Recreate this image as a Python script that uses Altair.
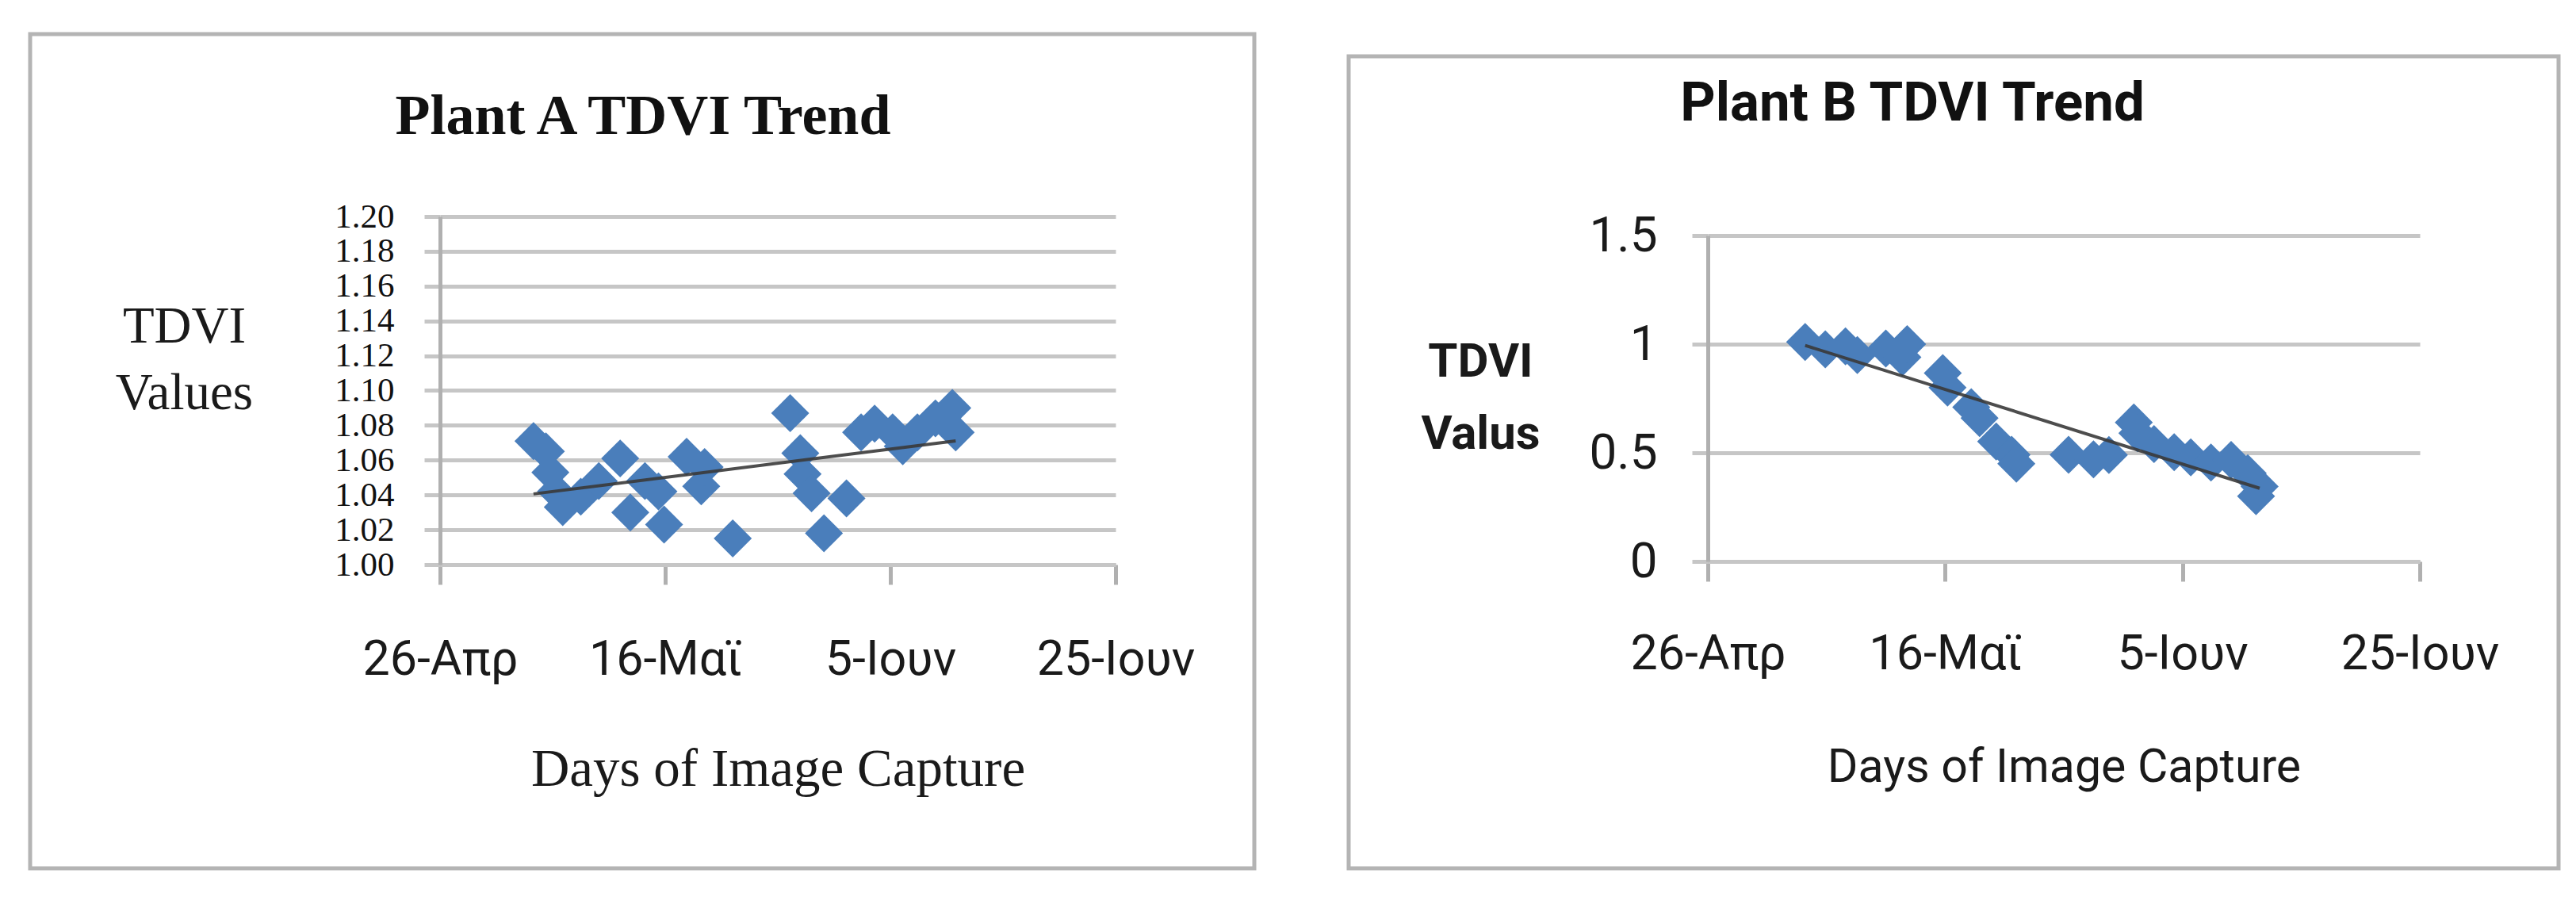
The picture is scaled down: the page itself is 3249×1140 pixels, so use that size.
import altair as alt
import pandas as pd

# ---- data ----
TICK_DAYS = [0, 20, 40, 60]                       # days after 26 April
TICK_LABELS = ["26-Απρ", "16-Μαϊ", "5-Ιουν", "25-Ιουν"]

A_DAYS = [8.3, 9.4, 9.8, 10.3, 10.9, 12.5, 14.1, 16.0, 16.9, 18.2, 19.4, 19.9,
          21.9, 23.2, 23.5, 26.0, 31.1, 32.0, 32.2, 33.0, 34.1, 36.1, 37.4, 38.6,
          40.2, 41.1, 42.4, 44.0, 45.5, 45.8]
A_TDVI = [1.071, 1.065, 1.053, 1.042, 1.033, 1.039, 1.048, 1.061, 1.030, 1.048,
          1.042, 1.023, 1.062, 1.045, 1.056, 1.015, 1.087, 1.064, 1.052, 1.041,
          1.018, 1.038, 1.076, 1.081, 1.076, 1.068, 1.076, 1.084, 1.090, 1.076]

B_DAYS = [8.2, 9.9, 11.6, 12.6, 15.0, 16.4, 16.8, 19.8, 20.2, 22.2, 22.9, 24.3,
          25.6, 26.0, 30.4, 32.5, 33.8, 35.9, 36.2, 37.6, 39.3, 40.7, 42.4, 44.1,
          45.5, 46.2, 46.5]
B_TDVI = [1.01, 0.976, 0.99, 0.95, 0.98, 0.94, 1.0, 0.867, 0.80, 0.71, 0.66,
          0.552, 0.491, 0.45, 0.491, 0.47, 0.49, 0.64, 0.59, 0.54, 0.503, 0.479,
          0.455, 0.467, 0.406, 0.30, 0.345]

A_YTICKS = [1.00, 1.02, 1.04, 1.06, 1.08, 1.10, 1.12, 1.14, 1.16, 1.18, 1.20]
B_YTICKS = [0, 0.5, 1, 1.5]

# ---- styles ----
BLUE = "#4a7ebb"
GRID = "#c6c6c6"
AXISC = "#b0b0b0"
FRAME = "#b4b4b4"
TXT = "#1a1a1a"
SERIF = "Liberation Serif"
SANS = "Roboto"

label_expr = "[" + ",".join("'%s'" % t for t in TICK_LABELS) + "][round(datum.value/20)]"

dfA = pd.DataFrame({"day": A_DAYS, "tdvi": A_TDVI})
dfB = pd.DataFrame({"day": B_DAYS, "tdvi": B_TDVI})


def x_enc(label_pad, title_font, title_size, title_x, title_y):
    return alt.X(
        "day:Q",
        scale=alt.Scale(domain=[0, 60], nice=False, zero=False),
        axis=alt.Axis(
            values=TICK_DAYS, labelExpr=label_expr, grid=False,
            domainColor=GRID, domainWidth=5, tickColor=AXISC, tickWidth=5, tickSize=25,
            labelFont=SANS, labelFontSize=61, labelColor=TXT, labelBaseline="alphabetic",
            labelPadding=label_pad, labelFlush=False, labelOverlap=False, labelLimit=0,
            title="Days of Image Capture", titleFont=title_font, titleFontSize=title_size,
            titleFontWeight="normal", titleColor=TXT, titleX=title_x, titleY=title_y,
            titleAlign="center", titleBaseline="alphabetic", titleLimit=0,
        ),
    )


# ---------------- Plant A ----------------
WA, HA = 852, 439
xA = x_enc(113, SERIF, 67, WA / 2, 278)
yA = alt.Y(
    "tdvi:Q",
    scale=alt.Scale(domain=[1.0, 1.2], nice=False, zero=False),
    axis=alt.Axis(
        values=A_YTICKS, format=".2f", grid=True, gridColor=GRID, gridWidth=5,
        domainColor=AXISC, domainWidth=5, tickColor=GRID, tickWidth=5, tickSize=20,
        labelFont=SERIF, labelFontSize=43, labelColor="#111", labelPadding=38,
        labelOverlap=False, labelFlush=False, labelLimit=0,
        title=["TDVI", "Values"], titleFont=SERIF, titleFontSize=65, titleFontWeight="normal",
        titleColor=TXT, titleAngle=0, titleX=-323, titleY=158, titleAlign="center",
        titleBaseline="alphabetic", titleLineHeight=84,
    ),
)
baseA = alt.Chart(dfA)
pointsA = baseA.mark_point(shape="diamond", filled=True, size=2300, color=BLUE, opacity=1).encode(x=xA, y=yA)
trendA = baseA.transform_regression("day", "tdvi").mark_line(color="#3a3a3a", strokeWidth=4, opacity=0.9).encode(x=xA, y=yA)
frameA = alt.Chart(alt.Data(values=[{"f": 1}])).mark_rect(
    fill="#ffffff", fillOpacity=0, stroke=FRAME, strokeWidth=5
).encode(x=alt.value(-517), x2=alt.value(1027), y=alt.value(-230), y2=alt.value(822))

panelA = alt.layer(frameA, pointsA, trendA).properties(
    width=WA, height=HA,
    title=alt.TitleParams(
        text="Plant A TDVI Trend", font=SERIF, fontSize=72, fontWeight="bold", color="#111",
        anchor="middle", frame="group", offset=0, dx=-170, dy=200, baseline="alphabetic",
    ),
)

# ---------------- Plant B ----------------
WB, HB = 898, 435
xB = x_enc(110, SANS, 59, WB / 2, 277)
yB = alt.Y(
    "tdvi:Q",
    scale=alt.Scale(domain=[0, 1.5], nice=False, zero=False, range=[HB, 24]),
    axis=alt.Axis(
        values=B_YTICKS, format="~g", grid=True, gridColor=GRID, gridWidth=5,
        domainColor=AXISC, domainWidth=5, tickColor=GRID, tickWidth=5, tickSize=20,
        labelFont=SANS, labelFontSize=62, labelColor=TXT, labelPadding=44,
        labelOverlap=False, labelFlush=False, labelLimit=0,
        title=["TDVI", "Valus"], titleFont=SANS, titleFontSize=60, titleFontWeight="bold",
        titleColor=TXT, titleAngle=0, titleX=-287, titleY=201, titleAlign="center",
        titleBaseline="alphabetic", titleLineHeight=91,
    ),
)
baseB = alt.Chart(dfB)
pointsB = baseB.mark_point(shape="diamond", filled=True, size=2300, color=BLUE, opacity=1).encode(x=xB, y=yB)
trendB = baseB.transform_regression("day", "tdvi").mark_line(color="#3a3a3a", strokeWidth=4, opacity=0.9).encode(x=xB, y=yB)
frameB = alt.Chart(alt.Data(values=[{"f": 1}])).mark_rect(
    fill="#ffffff", fillOpacity=0, stroke=FRAME, strokeWidth=5
).encode(x=alt.value(-453), x2=alt.value(1073), y=alt.value(-202), y2=alt.value(822))

panelB = alt.layer(frameB, pointsB, trendB).properties(
    width=WB, height=HB,
    title=alt.TitleParams(
        text="Plant B TDVI Trend", font=SANS, fontSize=69, fontWeight="bold", color="#111",
        anchor="middle", frame="group", offset=0, dx=-191, dy=152, baseline="alphabetic",
    ),
)

chart = (
    alt.hconcat(panelA, panelB, spacing=747, bounds="flush")
    .resolve_scale(x="independent", y="independent")
    .properties(padding={"left": 27, "top": 32, "right": 5, "bottom": 5})
    .configure(background="white")
    .configure_view(stroke="transparent")
)

chart.save("out.html", embed_options={"renderer": "svg", "actions": False})
